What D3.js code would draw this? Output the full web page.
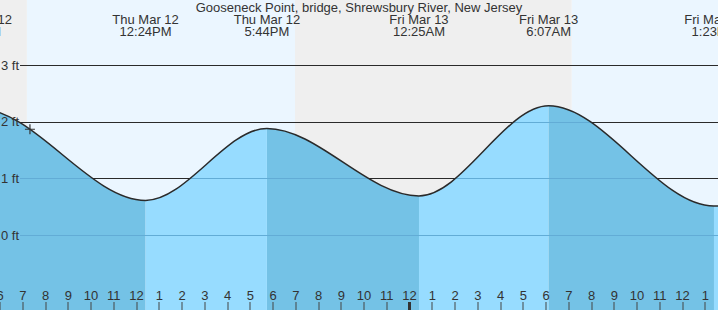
<html>
<head>
<script src="https://d3js.org/d3.v7.min.js"></script>
<style>
body { margin: 0; background: #fff; }
svg { display: block; font-family: "Liberation Sans", Arial, sans-serif; }
</style>
</head>
<body>
<div id="chart"></div>
<script>

const width = 718, height = 310;
const textColor = "#333";

// tide extremes (high / low)
var tideTimes   = ["2020-03-11T23:50", "2020-03-12T05:04", "2020-03-12T12:24", "2020-03-12T17:44", "2020-03-13T00:25", "2020-03-13T06:07", "2020-03-13T13:23", "2020-03-13T19:40"];
var tideHeights = [0.70, 2.23, 0.61, 1.88, 0.69, 2.28, 0.51, 1.95];
var tideDays    = ["Wed Mar 11", "Thu Mar 12", "Thu Mar 12", "Thu Mar 12", "Fri Mar 13", "Fri Mar 13", "Fri Mar 13", "Fri Mar 13"];
var tideClock   = ["11:50PM", "5:04AM", "12:24PM", "5:44PM", "12:25AM", "6:07AM", "1:23PM", "7:40PM"];

// sunrise / sunset, start with night
var lightTimes = ["2020-03-11T23:00", "2020-03-12T07:11", "2020-03-12T18:58", "2020-03-13T07:08", "2020-03-13T19:00"];
var lightKinds = ["night", "day", "night", "day"];

var feetTicks = [0, 1, 2, 3];
var nowTime = "2020-03-12T07:19";

var parse = d3.timeParse("%Y-%m-%dT%H:%M");
var tides = tideTimes.map((t, i) => ({ date: parse(t), ft: tideHeights[i], day: tideDays[i], clock: tideClock[i] }));

var x = d3.scaleTime()
    .domain([new Date(2020, 2, 12, 6), new Date(2020, 2, 13, 13)])
    .range([0, 31 * 22.75]);
var y = d3.scaleLinear().domain([0, 3]).range([235, 65]);

var svg = d3.select("#chart").append("svg")
    .attr("width", width)
    .attr("height", height);

// day / night bands
var bands = lightKinds.map((k, i) => ({ kind: k, a: parse(lightTimes[i]), b: parse(lightTimes[i + 1]) }));
svg.selectAll(".band")
    .data(bands)
    .enter().append("rect")
    .attr("x", d => x(d.a))
    .attr("y", 0)
    .attr("width", d => x(d.b) - x(d.a))
    .attr("height", height)
    .attr("fill", d => d.kind == "day" ? "#ebf6ff" : "#efefef");

// grid lines (above water)
svg.selectAll(".grid")
    .data(feetTicks)
    .enter().append("line")
    .attr("x1", 20).attr("x2", width)
    .attr("y1", d => Math.round(y(d)) + 0.5)
    .attr("y2", d => Math.round(y(d)) + 0.5)
    .attr("stroke", "#2a2a2a")
    .attr("stroke-width", 1);

// water
var area = d3.area()
    .curve(d3.curveMonotoneX)
    .x(d => x(d.date))
    .y0(height)
    .y1(d => y(d.ft));
var line = d3.line()
    .curve(d3.curveMonotoneX)
    .x(d => x(d.date))
    .y(d => y(d.ft));

var defs = svg.append("defs");
for (var i = 0; i < tides.length - 1; i++) {
  var rising = tides[i + 1].ft > tides[i].ft;
  defs.append("clipPath").attr("id", "seg" + i)
      .append("rect")
      .attr("x", x(tides[i].date)).attr("y", 0)
      .attr("width", x(tides[i + 1].date) - x(tides[i].date))
      .attr("height", height);
  svg.append("path")
      .datum(tides)
      .attr("d", area)
      .attr("clip-path", "url(#seg" + i + ")")
      .attr("fill", rising ? "#97dcff" : "#74c2e6");
}

// grid lines under the water surface
defs.append("clipPath").attr("id", "water")
    .append("path").datum(tides).attr("d", area);
svg.append("g").attr("clip-path", "url(#water)")
    .selectAll("line")
    .data(feetTicks)
    .enter().append("line")
    .attr("x1", 20).attr("x2", width)
    .attr("y1", d => Math.round(y(d)) + 0.5)
    .attr("y2", d => Math.round(y(d)) + 0.5)
    .attr("stroke", "#62acd6")
    .attr("stroke-width", 1);

var curve = svg.append("path")
    .datum(tides)
    .attr("d", line)
    .attr("fill", "none")
    .attr("stroke", "#2a2a2a")
    .attr("stroke-width", 1.5);

// current time marker, placed on the drawn curve
var nx = x(parse(nowTime));
var node = curve.node(), total = node.getTotalLength();
var lo = 0, hi = total;
for (var k = 0; k < 40; k++) {
  var mid = (lo + hi) / 2;
  if (node.getPointAtLength(mid).x < nx) lo = mid; else hi = mid;
}
var ny = node.getPointAtLength(lo).y;
svg.append("path")
    .attr("d", "M" + (nx - 5) + "," + ny + "H" + (nx + 5) + "M" + nx + "," + (ny - 5) + "V" + (ny + 5))
    .attr("stroke", "#333")
    .attr("stroke-width", 1.2);

// feet labels
svg.selectAll(".ylab")
    .data(feetTicks)
    .enter().append("text")
    .attr("x", 19)
    .attr("y", d => y(d) + 4.5)
    .attr("text-anchor", "end")
    .attr("font-size", "13px")
    .attr("fill", textColor)
    .text(d => d + " ft");

// hour axis
var hours = d3.timeHour.range(new Date(2020, 2, 12, 5), new Date(2020, 2, 13, 15));
var fmt = d3.timeFormat("%-I");
svg.selectAll(".tick")
    .data(hours)
    .enter().append("rect")
    .attr("x", d => d.getHours() == 0 ? x(d) - 1.5 : Math.round(x(d)) - 0.5)
    .attr("y", 302)
    .attr("width", d => d.getHours() == 0 ? 3 : 1)
    .attr("height", 8)
    .attr("fill", d => d.getHours() == 0 ? "#333" : "#444");
svg.selectAll(".xlab")
    .data(hours)
    .enter().append("text")
    .attr("x", d => x(d))
    .attr("y", 300)
    .attr("text-anchor", "middle")
    .attr("font-size", "13px")
    .attr("fill", textColor)
    .text(d => fmt(d));

// tide time labels
var tl = svg.selectAll(".tlab")
    .data(tides)
    .enter().append("text")
    .attr("text-anchor", "middle")
    .attr("font-size", "13px")
    .attr("fill", textColor);
tl.append("tspan").attr("x", d => x(d.date)).attr("y", 24).text(d => d.day);
tl.append("tspan").attr("x", d => x(d.date)).attr("y", 36).text(d => d.clock);

// title
svg.append("text")
    .attr("x", 359)
    .attr("y", 12)
    .attr("text-anchor", "middle")
    .attr("font-size", "13px")
    .attr("fill", textColor)
    .text("Gooseneck Point, bridge, Shrewsbury River, New Jersey");

</script>
</body>
</html>
